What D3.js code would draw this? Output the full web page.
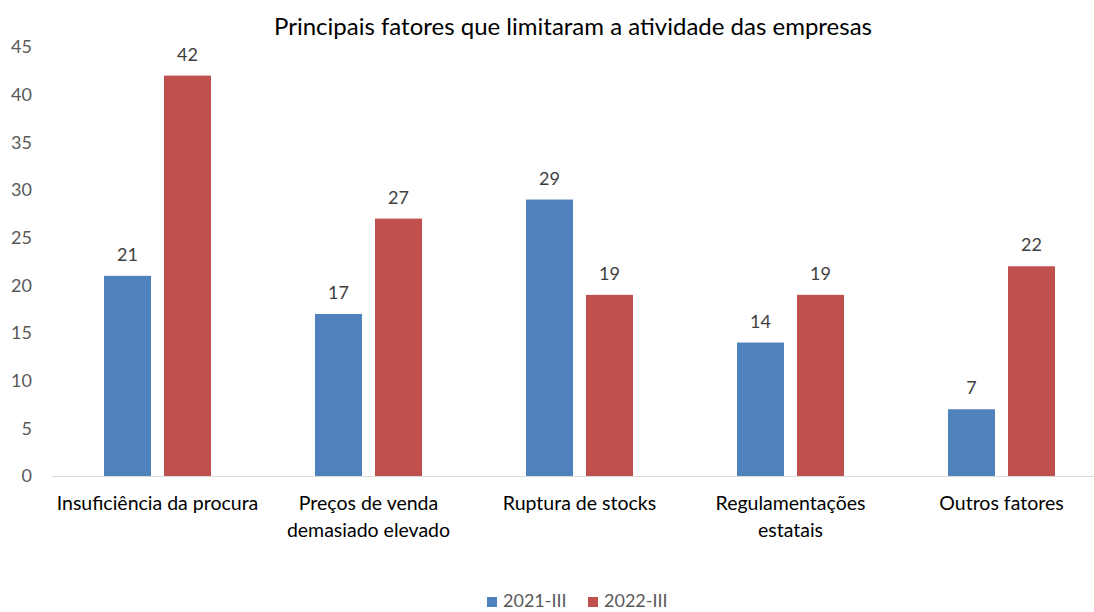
<!DOCTYPE html>
<html>
<head>
<meta charset="utf-8">
<script src="https://cdn.jsdelivr.net/npm/d3@7"></script>
<style>
    body { margin: 0; background: #fff; }
    svg { display: block; font-family: Lato, "Open Sans", sans-serif; }
</style>
</head>
<body>
<svg id="chart"></svg>
<script>
const title = "Principais fatores que limitaram a atividade das empresas";
const categories = [
    ["Insuficiência da procura"],
    ["Preços de venda", "demasiado elevado"],
    ["Ruptura de stocks"],
    ["Regulamentações", "estatais"],
    ["Outros fatores"]
];
const seriesNames = ["2021-III", "2022-III"];
const values2021 = [21, 17, 29, 14, 7];
const values2022 = [42, 27, 19, 19, 22];
const yTicks = [0, 5, 10, 15, 20, 25, 30, 35, 40, 45];
const colors = ["#4f81bd", "#c0504d"];

const w = 1094;
const h = 612;
const textColor = "#595959";
const fs = 18;
const catFs = 19.5;

const svg = d3.select("#chart")
    .attr("width", w)
    .attr("height", h);

const x = d3.scaleBand()
    .domain(d3.range(categories.length))
    .range([52, 1107]);

const y = d3.scaleLinear()
    .domain([0, 45])
    .range([476, 47]);

// title
svg.append("text")
    .attr("x", 573)
    .attr("y", 35)
    .attr("text-anchor", "middle")
    .attr("font-size", 24)
    .attr("fill", "#000")
    .text(title);

// y axis labels
const yAxis = d3.axisLeft(y).tickValues(yTicks).tickSize(0).tickPadding(0);
const yg = svg.append("g")
    .attr("transform", "translate(32,0)")
    .call(yAxis);
yg.select(".domain").remove();
yg.selectAll("text")
    .attr("font-size", fs)
    .attr("font-family", "Lato, sans-serif")
    .attr("fill", textColor);

// bars
const barW = 47;
const gap = 13;
const series = [values2021, values2022];
series.forEach((vals, s) => {
    const offset = s === 0 ? -(gap / 2) - barW : gap / 2;
    svg.append("g")
        .selectAll("rect")
        .data(vals)
        .enter()
        .append("rect")
        .attr("x", (d, i) => x(i) + x.bandwidth() / 2 + offset)
        .attr("y", (d) => y(d))
        .attr("width", barW)
        .attr("height", (d) => y(0) - y(d))
        .attr("fill", colors[s]);

    svg.append("g")
        .selectAll("text")
        .data(vals)
        .enter()
        .append("text")
        .attr("x", (d, i) => x(i) + x.bandwidth() / 2 + offset + barW / 2)
        .attr("y", (d) => y(d) - 15)
        .attr("text-anchor", "middle")
        .attr("font-size", fs)
        .attr("fill", "#404040")
        .text((d) => d);
});

// x axis line
svg.append("line")
    .attr("x1", 52)
    .attr("x2", 1107)
    .attr("y1", y(0) + 0.5)
    .attr("y2", y(0) + 0.5)
    .attr("stroke", "#d9d9d9")
    .attr("stroke-width", 1);

// category labels
categories.forEach((lines, i) => {
    const t = svg.append("text")
        .attr("text-anchor", "middle")
        .attr("font-size", catFs)
        .attr("fill", "#000");
    lines.forEach((line, j) => {
        t.append("tspan")
            .attr("x", x(i) + x.bandwidth() / 2)
            .attr("y", 510 + j * 27)
            .text(line);
    });
});

// legend
const legendX = [487, 588];
seriesNames.forEach((name, s) => {
    svg.append("rect")
        .attr("x", legendX[s])
        .attr("y", 597)
        .attr("width", 10)
        .attr("height", 10)
        .attr("fill", colors[s]);
    svg.append("text")
        .attr("x", legendX[s] + 16)
        .attr("y", 607)
        .attr("font-size", fs)
        .attr("fill", textColor)
        .text(name);
});
</script>
</body>
</html>
